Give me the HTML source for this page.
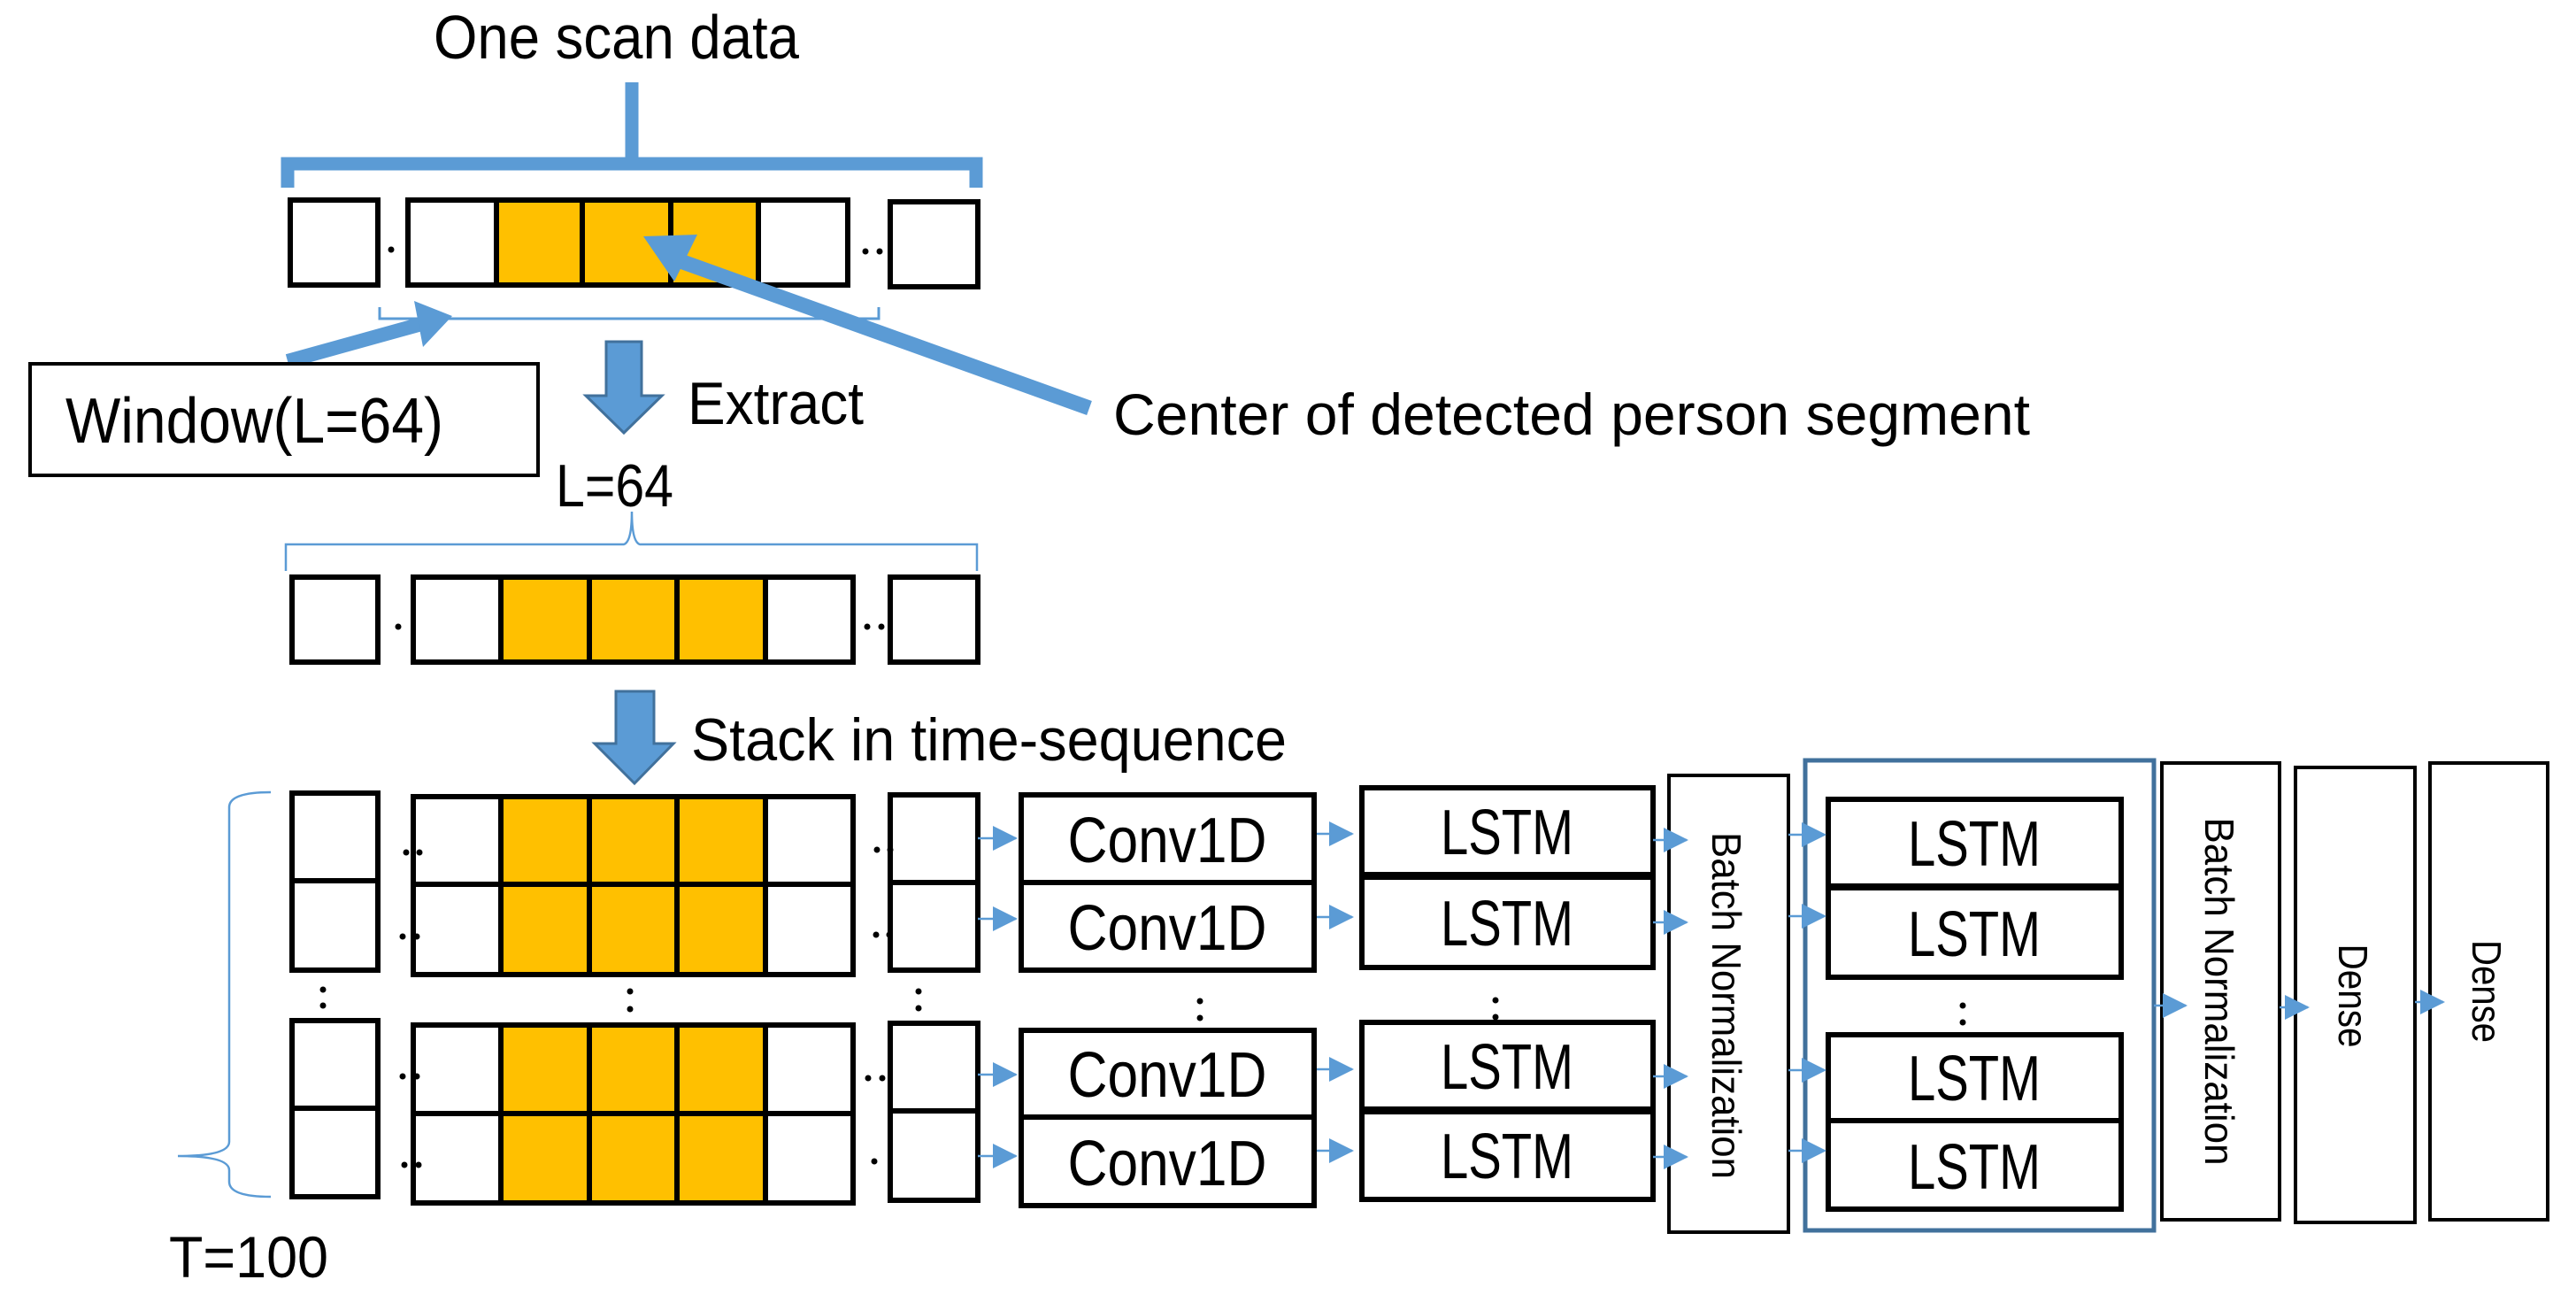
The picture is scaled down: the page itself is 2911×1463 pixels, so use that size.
<!DOCTYPE html>
<html><head><meta charset="utf-8"><style>
html,body{margin:0;padding:0;background:#fff;}
svg{display:block;}
text{font-family:"Liberation Sans",sans-serif;fill:#000;}
</style></head><body>
<svg width="2911" height="1463" viewBox="0 0 2911 1463" xmlns="http://www.w3.org/2000/svg">
<defs>
<marker id="ah" markerWidth="28" markerHeight="28" refX="26" refY="14" orient="auto" markerUnits="userSpaceOnUse">
<path d="M0,0 L28,14 L0,28 Z" fill="#5B9BD5"/>
</marker>
</defs>

<text x="490" y="66" font-size="70" textLength="413" lengthAdjust="spacingAndGlyphs">One scan data</text>
<line x1="714" y1="93" x2="714" y2="185" stroke="#5B9BD5" stroke-width="15"/>
<path d="M325,212 L325,185 L1103,185 L1103,212" fill="none" stroke="#5B9BD5" stroke-width="15"/>

<g fill="none" stroke="#000" stroke-width="6">
<rect x="561" y="226" width="297" height="96" fill="#FFC000" stroke="none"/>
<rect x="328" y="226" width="99" height="96"/>
<rect x="461" y="226" width="497" height="96"/>
<line x1="561" y1="226" x2="561" y2="322"/>
<line x1="658" y1="226" x2="658" y2="322"/>
<line x1="758" y1="226" x2="758" y2="322"/>
<line x1="857" y1="226" x2="857" y2="322"/>
<rect x="1006" y="228" width="99" height="96"/>
</g>
<g fill="#000"><circle cx="442" cy="282" r="3.5"/><circle cx="978" cy="284" r="3.5"/><circle cx="994" cy="284" r="3.5"/></g>
<path d="M429,347 L429,360 L993,360 L993,347" fill="none" stroke="#5B9BD5" stroke-width="3"/>

<line x1="325" y1="408" x2="480" y2="365" stroke="#5B9BD5" stroke-width="16"/>
<polygon points="511,357 468,340 478,392" fill="#5B9BD5"/>
<rect x="34" y="411" width="574" height="126" fill="#fff" stroke="#000" stroke-width="4"/>
<text x="74" y="500" font-size="72" textLength="427" lengthAdjust="spacingAndGlyphs">Window(L=64)</text>

<line x1="1231" y1="461" x2="755" y2="290" stroke="#5B9BD5" stroke-width="17"/>
<polygon points="727,267 788,265 762,318" fill="#5B9BD5"/>
<text x="1258" y="491" font-size="66" textLength="1036" lengthAdjust="spacingAndGlyphs">Center of detected person segment</text>

<polygon points="685,386 725,386 725,447 748,447 705,489 662,447 685,447" fill="#5B9BD5" stroke="#41719C" stroke-width="3"/>
<text x="777" y="479" font-size="68" textLength="199" lengthAdjust="spacingAndGlyphs">Extract</text>
<text x="628" y="572" font-size="68" textLength="133" lengthAdjust="spacingAndGlyphs">L=64</text>
<path d="M323,645 L323,615 L705,615 Q714,612 714,578 Q714,612 723,615 L1104,615 L1104,645" fill="none" stroke="#5B9BD5" stroke-width="2.5"/>

<g fill="none" stroke="#000" stroke-width="6">
<rect x="566" y="652" width="299" height="96" fill="#FFC000" stroke="none"/>
<rect x="330" y="652" width="97" height="96"/>
<rect x="467" y="652" width="497" height="96"/>
<line x1="566" y1="652" x2="566" y2="748"/>
<line x1="666" y1="652" x2="666" y2="748"/>
<line x1="765" y1="652" x2="765" y2="748"/>
<line x1="865" y1="652" x2="865" y2="748"/>
<rect x="1006" y="652" width="99" height="96"/>
</g>
<g fill="#000"><circle cx="450" cy="708" r="3.5"/><circle cx="980" cy="708" r="3.5"/><circle cx="996" cy="708" r="3.5"/></g>

<polygon points="696,781 739,781 739,840 761,840 717,885 672,840 696,840" fill="#5B9BD5" stroke="#41719C" stroke-width="3"/>
<text x="781" y="859" font-size="68" textLength="673" lengthAdjust="spacingAndGlyphs">Stack in time-sequence</text>

<g fill="none" stroke="#000" stroke-width="6">
<rect x="566" y="899" width="299" height="202" fill="#FFC000" stroke="none"/>
<rect x="566" y="1157" width="299" height="201" fill="#FFC000" stroke="none"/>
<rect x="330" y="896" width="97" height="200"/><line x1="330" y1="995" x2="427" y2="995"/>
<rect x="330" y="1153" width="97" height="199"/><line x1="330" y1="1252" x2="427" y2="1252"/>
<rect x="467" y="900" width="497" height="201"/><line x1="467" y1="999" x2="964" y2="999"/>
<rect x="467" y="1158" width="497" height="201"/><line x1="467" y1="1258" x2="964" y2="1258"/>
<line x1="566" y1="900" x2="566" y2="1101"/><line x1="666" y1="900" x2="666" y2="1101"/><line x1="765" y1="900" x2="765" y2="1101"/><line x1="865" y1="900" x2="865" y2="1101"/>
<line x1="566" y1="1158" x2="566" y2="1359"/><line x1="666" y1="1158" x2="666" y2="1359"/><line x1="765" y1="1158" x2="765" y2="1359"/><line x1="865" y1="1158" x2="865" y2="1359"/>
<rect x="1006" y="898" width="99" height="198"/><line x1="1006" y1="997" x2="1105" y2="997"/>
<rect x="1006" y="1156" width="99" height="200"/><line x1="1006" y1="1255" x2="1105" y2="1255"/>
</g>
<g fill="#000">
<circle cx="459" cy="963" r="3.5"/><circle cx="474" cy="963" r="3.5"/>
<circle cx="455" cy="1058" r="3.5"/><circle cx="471" cy="1058" r="3.5"/>
<circle cx="455" cy="1216" r="3.5"/><circle cx="471" cy="1216" r="3.5"/>
<circle cx="457" cy="1316" r="3.5"/><circle cx="473" cy="1316" r="3.5"/>
<circle cx="991" cy="960" r="3.5"/><circle cx="1006" cy="960" r="3.5"/>
<circle cx="990" cy="1056" r="3.5"/><circle cx="1005" cy="1056" r="3.5"/>
<circle cx="981" cy="1218" r="3.5"/><circle cx="997" cy="1218" r="3.5"/>
<circle cx="988" cy="1312" r="3.5"/>
<circle cx="365" cy="1118" r="3.5"/><circle cx="365" cy="1136" r="3.5"/>
<circle cx="712" cy="1120" r="3.5"/><circle cx="712" cy="1140" r="3.5"/>
<circle cx="1038" cy="1120" r="3.5"/><circle cx="1038" cy="1139" r="3.5"/>
<circle cx="1356" cy="1131" r="3.5"/><circle cx="1356" cy="1150" r="3.5"/>
<circle cx="1690" cy="1130" r="3.5"/><circle cx="1690" cy="1149" r="3.5"/>
<circle cx="2218" cy="1136" r="3.5"/><circle cx="2218" cy="1155" r="3.5"/>
</g>
<path d="M306,895 Q259,895 259,912 L259,1290 Q259,1306 201,1306 Q259,1306 259,1322 L259,1335 Q259,1352 306,1352" fill="none" stroke="#5B9BD5" stroke-width="2.5"/>
<text x="191" y="1443" font-size="66" textLength="180" lengthAdjust="spacingAndGlyphs">T=100</text>

<g stroke="#5B9BD5" stroke-width="2.5" marker-end="url(#ah)">
<line x1="1105" y1="947" x2="1148" y2="947"/>
<line x1="1105" y1="1038" x2="1148" y2="1038"/>
<line x1="1105" y1="1214" x2="1148" y2="1214"/>
<line x1="1105" y1="1306" x2="1148" y2="1306"/>
<line x1="1485" y1="942" x2="1528" y2="942"/>
<line x1="1485" y1="1036" x2="1528" y2="1036"/>
<line x1="1485" y1="1208" x2="1528" y2="1208"/>
<line x1="1485" y1="1300" x2="1528" y2="1300"/>
</g>

<g fill="none" stroke="#000" stroke-width="6">
<rect x="1154" y="898" width="331" height="99"/>
<rect x="1154" y="997" width="331" height="99"/>
<rect x="1154" y="1164" width="331" height="98"/>
<rect x="1154" y="1262" width="331" height="100"/>
<rect x="1539" y="890" width="329" height="98"/>
<rect x="1539" y="991" width="329" height="102"/>
<rect x="1539" y="1155" width="329" height="98"/>
<rect x="1539" y="1256" width="329" height="99"/>
</g>
<g font-size="72" text-anchor="middle">
<text x="1319" y="974" textLength="225" lengthAdjust="spacingAndGlyphs">Conv1D</text>
<text x="1319" y="1073" textLength="225" lengthAdjust="spacingAndGlyphs">Conv1D</text>
<text x="1319" y="1239" textLength="225" lengthAdjust="spacingAndGlyphs">Conv1D</text>
<text x="1319" y="1339" textLength="225" lengthAdjust="spacingAndGlyphs">Conv1D</text>
<text x="1703" y="965" textLength="150" lengthAdjust="spacingAndGlyphs">LSTM</text>
<text x="1703" y="1068" textLength="150" lengthAdjust="spacingAndGlyphs">LSTM</text>
<text x="1703" y="1230" textLength="150" lengthAdjust="spacingAndGlyphs">LSTM</text>
<text x="1703" y="1331" textLength="150" lengthAdjust="spacingAndGlyphs">LSTM</text>
<text x="2231" y="978" textLength="150" lengthAdjust="spacingAndGlyphs">LSTM</text>
<text x="2231" y="1080" textLength="150" lengthAdjust="spacingAndGlyphs">LSTM</text>
<text x="2231" y="1243" textLength="150" lengthAdjust="spacingAndGlyphs">LSTM</text>
<text x="2231" y="1343" textLength="150" lengthAdjust="spacingAndGlyphs">LSTM</text>
</g>

<rect x="1886" y="876" width="135" height="516" fill="#fff" stroke="#000" stroke-width="4"/>
<text transform="translate(1951,1136) rotate(90)" x="0" y="16" font-size="46" text-anchor="middle" textLength="392" lengthAdjust="spacingAndGlyphs">Batch Normalization</text>

<rect x="2040" y="859" width="394" height="531" fill="none" stroke="#41719C" stroke-width="5"/>
<g fill="none" stroke="#000" stroke-width="6">
<rect x="2066" y="903" width="331" height="98"/>
<rect x="2066" y="1003" width="331" height="101"/>
<rect x="2066" y="1169" width="331" height="97"/>
<rect x="2066" y="1266" width="331" height="100"/>
</g>

<g stroke="#5B9BD5" stroke-width="2.5" marker-end="url(#ah)">
<line x1="1868" y1="949" x2="1906" y2="949"/>
<line x1="1868" y1="1042" x2="1906" y2="1042"/>
<line x1="1868" y1="1216" x2="1906" y2="1216"/>
<line x1="1868" y1="1307" x2="1906" y2="1307"/>
<line x1="2021" y1="943" x2="2062" y2="943"/>
<line x1="2021" y1="1035" x2="2062" y2="1035"/>
<line x1="2021" y1="1209" x2="2062" y2="1209"/>
<line x1="2021" y1="1300" x2="2062" y2="1300"/>
</g>

<g fill="#fff" stroke="#000" stroke-width="4">
<rect x="2443" y="862" width="133" height="516"/>
<rect x="2594" y="867" width="135" height="514"/>
<rect x="2746" y="862" width="133" height="516"/>
</g>
<text transform="translate(2508,1120) rotate(90)" x="0" y="16" font-size="46" text-anchor="middle" textLength="393" lengthAdjust="spacingAndGlyphs">Batch Normalization</text>
<text transform="translate(2659,1125) rotate(90)" x="0" y="16" font-size="46" text-anchor="middle" textLength="117" lengthAdjust="spacingAndGlyphs">Dense</text>
<text transform="translate(2810,1120) rotate(90)" x="0" y="16" font-size="46" text-anchor="middle" textLength="116" lengthAdjust="spacingAndGlyphs">Dense</text>
<g stroke="#5B9BD5" stroke-width="2.5" marker-end="url(#ah)">
<line x1="2434" y1="1136" x2="2470" y2="1136"/>
<line x1="2576" y1="1138" x2="2608" y2="1138"/>
<line x1="2729" y1="1132" x2="2761" y2="1132"/>
</g>
</svg>
</body></html>
